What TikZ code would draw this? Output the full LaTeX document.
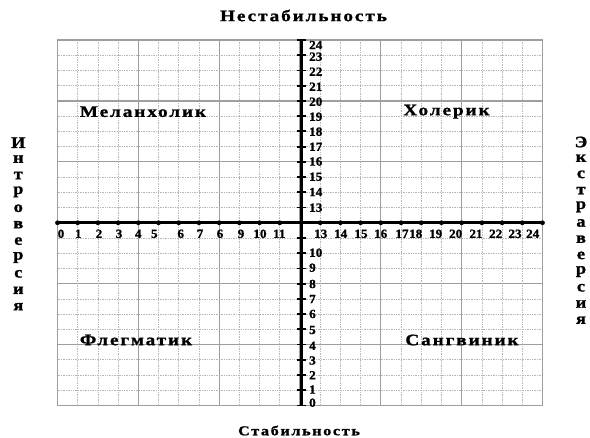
\documentclass[tikz,border=0pt]{standalone}
\usepackage{fontspec}
\setmainfont{Liberation Serif}
\newfontfamily\spfont[FakeStretch=1.2,LetterSpace=12,FakeBold=1.2]{Liberation Serif Bold}
\newfontfamily\numfont[FakeStretch=1.05,FakeBold=1]{Liberation Serif Bold}
\newfontfamily\vlfont[FakeStretch=1.15,FakeBold=1.2]{Liberation Serif Bold}
\begin{document}
\begin{tikzpicture}[x=1pt,y=-1pt,
  minorline/.style={draw=black!28,line width=0.7pt,densely dotted},
  majorline/.style={draw=black!38,line width=1.3pt},
  axisline/.style={draw=black,line width=2.6pt},
  vaxis/.style={draw=black,line width=3.6pt},
  ticks/.style={draw=black,line width=1.8pt},
  num/.style={inner sep=0pt,font=\fontsize{12.5}{13}\selectfont\numfont},
  word/.style={inner sep=0pt,font=\fontsize{16}{17}\selectfont\spfont},
  vletter/.style={inner sep=0pt,font=\fontsize{16}{17}\selectfont\vlfont}]
\useasboundingbox (0,0) rectangle (590,438);
% minor grid
\foreach \i in {1,...,23}
  \draw[minorline] ({57.5+\i*20.2083},40) -- ({57.5+\i*20.2083},405.5);
\foreach \j in {1,...,23}
  \draw[minorline] (57.5,{40+\j*15.2292}) -- (542.5,{40+\j*15.2292});
% major grid
\foreach \i in {4,8,...,20}
  \draw[majorline] ({57.5+\i*20.2083},40) -- ({57.5+\i*20.2083},405.5);
\foreach \j in {4,8,...,20}
  \draw[majorline] (57.5,{40+\j*15.2292}) -- (542.5,{40+\j*15.2292});
\draw[majorline] (57.5,40) rectangle (542.5,405.5);
% horizontal axis
\coordinate (xl) at (57.5,222.75);
\coordinate (xr) at (544,222.75);
\draw[axisline] (xl) -- (xr);
\foreach \i in {0,...,11,13,14,...,24}
  \fill ({57.5+\i*20.2083},222.75) circle (2.4);
% vertical axis
\coordinate (yt) at (301.5,40);
\coordinate (yb) at (301.5,405.5);
\draw[vaxis] (yt) -- (yb);
\foreach \j in {0,...,11,13,14,...,24}
  \draw[ticks] (297,{405.5-\j*15.2292}) -- (306,{405.5-\j*15.2292});
% x labels
\foreach \t/\x [count=\k] in {0/61,1/78.3,2/99,3/119,4/138.3,5/154.3,6/180.7,7/200,6/220,9/241,10/260,11/279.3,
  13/320.7,14/340.7,15/361,16/380.7,17/402,18/415.7,19/435.7,20/455.7,21/476,22/495.7,23/515,24/532.7}
  \node[num] (xlab\k) at (\x,233.8) {\t};
% y labels
\foreach \t/\y [count=\k] in {24/45,23/56.7,22/71.7,21/86.7,20/101.7,19/116.7,18/131.7,17/146.7,16/161.5,15/176.7,14/192,13/207.7,
  10/252.7,9/267.7,8/284,7/299,6/314,5/330,4/345.7,3/360.5,2/375.2,1/389.5,0/402.7}
  \node[num,anchor=west] (ylab\k) at (309,\y) {\t};
% quadrant words
\node[word] (mel) at (143,111.7) {Меланхолик};
\node[word] (hol) at (446.5,111.7) {Холерик};
\node[word] (fle) at (136,340) {Флегматик};
\node[word] (san) at (462,340) {Сангвиник};
\node[word] (nest) at (303.5,15.5) {Нестабильность};
\node[word,font=\fontsize{13.5}{14}\selectfont\spfont] (stab) at (299,430.5) {Стабильность};
% vertical words
\foreach \c [count=\k] in {И,н,т,р,о,в,е,р,с,и,я}
  \node[vletter] (intro\k) at (18.3,{142.7+(\k-1)*16.4}) {\c};
\foreach \c [count=\k] in {Э,к,с,т,р,а,в,е,р,с,и,я}
  \node[vletter] (extra\k) at (581,{142+(\k-1)*16.2}) {\c};
\end{tikzpicture}
\end{document}
